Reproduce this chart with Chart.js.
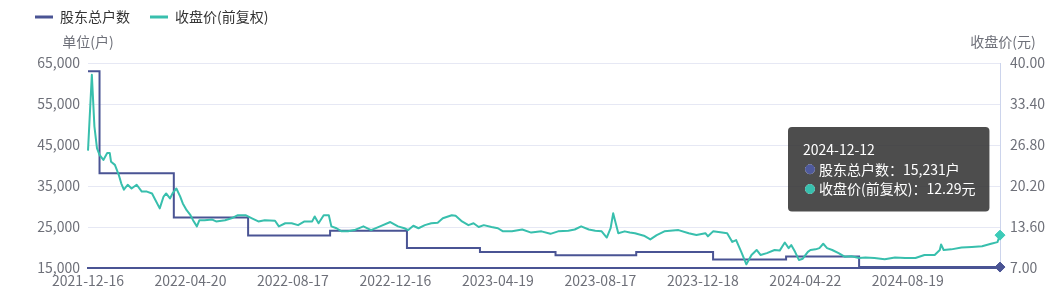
<!DOCTYPE html>
<html lang="zh-CN">
<head>
<meta charset="UTF-8">
<title>股东总户数与收盘价</title>
<script src="https://cdn.jsdelivr.net/npm/chart.js"></script>
<style>
  html, body { margin: 0; padding: 0; background: #fff; }
  #wrap { width: 1063px; height: 291px; position: relative; }
</style>
</head>
<body>
<div id="wrap"><canvas id="myChart"></canvas></div>
<script>
// x is a trading-day index: 0 = 2021-12-16, 712 = 2024-12-12
const dateIdx = [0, 80, 160, 240, 320, 400, 480, 560, 640];
const dateLabels = ['2021-12-16', '2022-04-20', '2022-08-17', '2022-12-16', '2023-04-19',
                    '2023-08-17', '2023-12-18', '2024-04-22', '2024-08-19'];
const lastIdx = 712;
const lastDate = '2024-12-12';

// 股东总户数 (step changes)
const holderIdx = [0, 9, 67, 125, 189, 249, 306, 365, 428, 488, 545, 602, 712];
const holderCount = [63000, 38100, 27300, 22900, 24100, 19900, 18900, 18100, 18900, 17100, 17800, 15231, 15231];

// 收盘价(前复权)
const priceIdx = [0, 3, 5, 7, 9, 12, 15, 17, 18, 21, 24, 26, 28, 31, 34, 38, 42, 46, 50, 52,
  56, 59, 61, 64, 66, 69, 72, 74, 77, 80, 82, 85, 87, 91, 97, 100, 107, 112, 117, 123,
  128, 133, 138, 146, 149, 154, 159, 164, 169, 175, 177, 180, 184, 188, 190, 194, 198, 203, 208, 215,
  221, 228, 236, 242, 247, 250, 254, 258, 263, 268, 273, 277, 284, 287, 292, 297, 301, 305, 309, 315,
  320, 324, 331, 339, 346, 354, 361, 367, 375, 380, 385, 391, 396, 401, 405, 408, 410, 412, 414, 419,
  423, 427, 434, 439, 444, 450, 461, 469, 475, 482, 484, 488, 495, 499, 503, 506, 510, 514, 518, 522,
  525, 530, 536, 540, 544, 547, 549, 552, 555, 558, 562, 564, 568, 571, 574, 577, 581, 586, 591, 596,
  602, 607, 614, 622, 630, 638, 646, 653, 661, 665, 666, 668, 674, 682, 690, 698, 705, 710, 712];
const priceClose = [25.9, 38.1, 29.8, 26.3, 25.2, 24.4, 25.5, 25.5, 24.1, 23.6, 22.0, 20.6, 19.6, 20.4, 19.8, 20.4, 19.3, 19.3, 19.0, 18.2,
  16.6, 18.5, 19.0, 18.2, 19.0, 19.8, 18.5, 17.4, 16.3, 15.5, 14.7, 13.7, 14.7, 14.7, 14.8, 14.5, 14.7, 15.0, 15.5, 15.5,
  15.0, 14.5, 14.7, 14.6, 13.7, 14.2, 14.2, 13.9, 14.5, 14.5, 15.3, 14.2, 15.5, 15.5, 13.7, 13.4, 12.9, 12.9, 13.1, 13.7,
  13.1, 13.7, 14.4, 13.7, 13.4, 13.1, 13.8, 13.4, 13.9, 14.2, 14.3, 15.0, 15.5, 15.4, 14.5, 13.9, 14.2, 13.6, 13.9, 13.6,
  13.4, 12.9, 12.9, 13.2, 12.7, 12.9, 12.5, 12.9, 13.0, 13.2, 13.7, 13.2, 13.0, 12.9, 11.9, 13.4, 15.8, 14.2, 12.6, 12.9,
  12.7, 12.6, 12.2, 11.6, 12.3, 12.9, 13.1, 12.6, 12.3, 12.6, 12.1, 12.9, 12.7, 12.6, 11.2, 11.5, 9.6, 7.6, 9.1, 9.9,
  9.1, 9.4, 9.9, 9.8, 11.1, 10.2, 10.7, 9.6, 8.3, 8.5, 9.6, 9.9, 10.0, 10.2, 10.9, 10.2, 9.9, 9.4, 8.8, 8.9,
  8.6, 8.7, 8.6, 8.4, 8.7, 8.6, 8.6, 9.1, 9.1, 9.9, 10.8, 9.9, 10.0, 10.3, 10.4, 10.5, 10.9, 11.17, 12.29];

const leftTicks = [15000, 25000, 35000, 45000, 55000, 65000];
const rightTicks = [7.00, 13.60, 20.20, 26.80, 33.40, 40.00];

const FONT = "'Noto Sans CJK SC', 'Noto Sans', sans-serif";
const NAVY = '#4a5494';
const TEAL = '#38bfad';
const AXIS_TEXT = '#6e7079';

Chart.defaults.font.family = FONT;
Chart.defaults.font.size = 14;
Chart.defaults.color = AXIS_TEXT;

// unit titles above the two y axes
const axisTitles = {
    id: 'axisTitles',
    afterDraw(chart) {
        const { ctx, chartArea } = chart;
        ctx.save();
        ctx.font = '14px ' + FONT;
        ctx.fillStyle = AXIS_TEXT;
        ctx.textAlign = 'center';
        ctx.textBaseline = 'middle';
        ctx.fillText('单位(户)', chartArea.left, chartArea.top - 21);
        ctx.fillText('收盘价(元)', chartArea.right + 3, chartArea.top - 21);
        ctx.restore();
    }
};

// pull legend up so items sit near the top edge
const legendShift = {
    id: 'legendShift',
    afterLayout(chart) {
        const lg = chart.legend;
        const h = lg.height;
        lg.top = -10;
        lg.bottom = lg.top + h;
    }
};

// tooltip fixed at the upper right of the plot
Chart.Tooltip.positioners.fixedBox = function () {
    return { x: 792, y: 127 };
};

const ctx = document.getElementById('myChart').getContext('2d');
const chart = new Chart(ctx, {
    type: 'line',
    data: {
        datasets: [{
            label: '股东总户数',
            data: holderIdx.map((x, i) => ({ x: x, y: holderCount[i] })),
            yAxisID: 'yH',
            borderColor: NAVY,
            backgroundColor: NAVY,
            borderWidth: 2,
            stepped: true,
            pointRadius: 0,
            pointStyle: 'rectRot',
            pointHoverRadius: 5,
            pointHoverBorderWidth: 1,
            pointHoverBackgroundColor: NAVY,
            pointHoverBorderColor: NAVY,
            clip: false,
            order: 1
        }, {
            label: '收盘价(前复权)',
            data: priceIdx.map((x, i) => ({ x: x, y: priceClose[i] })),
            yAxisID: 'yP',
            borderColor: TEAL,
            backgroundColor: TEAL,
            borderWidth: 2,
            borderJoinStyle: 'round',
            tension: 0,
            pointRadius: 0,
            pointStyle: 'rectRot',
            pointHoverRadius: 5,
            pointHoverBorderWidth: 1,
            pointHoverBackgroundColor: '#3ccbb8',
            pointHoverBorderColor: '#3ccbb8',
            clip: false,
            order: 0
        }]
    },
    options: {
        responsive: true,
        maintainAspectRatio: false,
        animation: false,
        events: [],
        layout: { padding: { left: 15, right: 0, top: 19, bottom: 0 } },
        scales: {
            x: {
                type: 'linear',
                min: 0,
                max: lastIdx,
                afterBuildTicks: s => { s.ticks = dateIdx.map(v => ({ value: v })); },
                afterFit: s => { s.height = 23; },
                ticks: {
                    padding: 4,
                    maxRotation: 0,
                    autoSkip: false,
                    color: AXIS_TEXT,
                    callback: (v) => dateLabels[dateIdx.indexOf(v)]
                },
                grid: { display: false, drawTicks: false },
                border: { display: true, color: NAVY, width: 2 }
            },
            yH: {
                position: 'left',
                min: 15000,
                max: 65000,
                afterBuildTicks: s => { s.ticks = leftTicks.map(v => ({ value: v })); },
                afterFit: s => { s.width = 73; },
                ticks: {
                    padding: 8,
                    color: AXIS_TEXT,
                    callback: v => v.toLocaleString('en-US')
                },
                grid: { color: '#e6e8f4', lineWidth: 1, drawTicks: false },
                border: { display: false }
            },
            yP: {
                position: 'right',
                min: 7,
                max: 40,
                afterBuildTicks: s => { s.ticks = rightTicks.map(v => ({ value: v })); },
                afterFit: s => { s.width = 63; },
                ticks: {
                    padding: 10,
                    color: AXIS_TEXT,
                    callback: v => Number(v).toFixed(2)
                },
                grid: { display: false, drawTicks: false },
                border: { display: true, color: '#ccd4ec', width: 1 }
            }
        },
        plugins: {
            legend: {
                position: 'top',
                align: 'start',
                labels: {
                    usePointStyle: true,
                    pointStyle: 'line',
                    pointStyleWidth: 18,
                    padding: 20,
                    color: '#333',
                    font: { size: 14 },
                    sort: (a, b) => a.datasetIndex - b.datasetIndex,
                    generateLabels: (c) => {
                        const items = Chart.defaults.plugins.legend.labels.generateLabels(c);
                        items.forEach(it => { it.lineWidth = 3; it.pointStyle = 'line'; });
                        return items;
                    }
                }
            },
            tooltip: {
                enabled: true,
                position: 'fixedBox',
                xAlign: 'left',
                yAlign: 'top',
                caretSize: 0,
                caretPadding: 0,
                cornerRadius: 4,
                backgroundColor: 'rgba(50, 50, 50, 0.87)',
                titleColor: '#fff',
                bodyColor: '#fff',
                titleFont: { size: 14, weight: 'normal' },
                bodyFont: { size: 14 },
                titleMarginBottom: 3,
                bodySpacing: 3,
                padding: { left: 15, right: 14, top: 14, bottom: 14 },
                displayColors: true,
                usePointStyle: true,
                boxWidth: 14,
                boxHeight: 9,
                itemSort: (a, b) => a.datasetIndex - b.datasetIndex,
                callbacks: {
                    title: () => lastDate,
                    label: (item) => item.datasetIndex === 0
                        ? '股东总户数：' + item.parsed.y.toLocaleString('en-US') + '户'
                        : '收盘价(前复权)：' + item.parsed.y.toFixed(2) + '元',
                    labelPointStyle: () => ({ pointStyle: 'circle', rotation: 0 }),
                    labelColor: (item) => {
                        const col = item.datasetIndex === 0 ? '#4f5a9c' : TEAL;
                        return { borderColor: col, backgroundColor: col, borderWidth: 0 };
                    }
                }
            }
        }
    },
    plugins: [axisTitles, legendShift]
});

// show the last day as hovered, like the original
const active = [
    { datasetIndex: 0, index: holderIdx.length - 1 },
    { datasetIndex: 1, index: priceIdx.length - 1 }
];
chart.setActiveElements(active);
chart.tooltip.setActiveElements(active, { x: 1000, y: 235 });
chart.update();
</script>
</body>
</html>
